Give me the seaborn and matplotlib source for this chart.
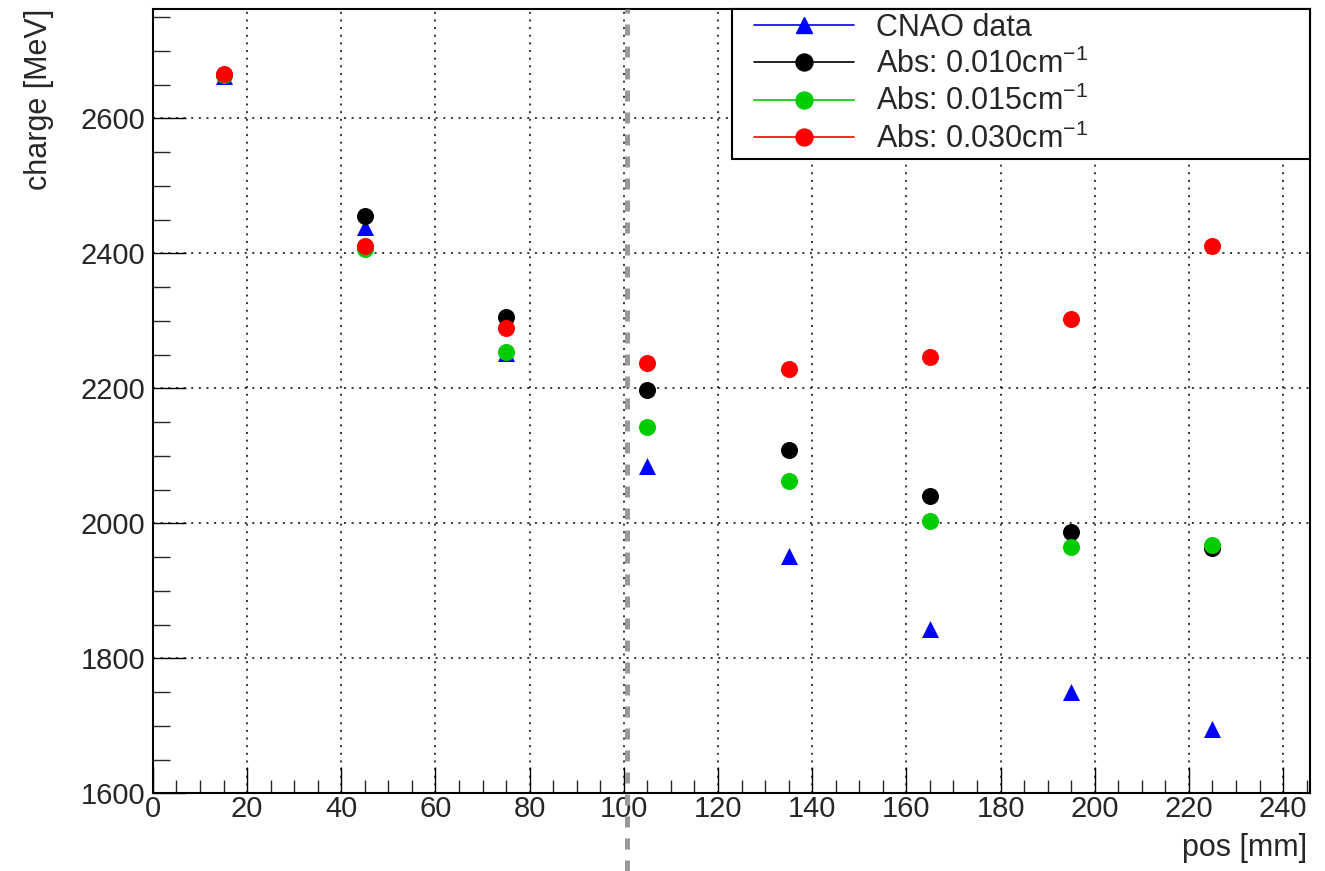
import matplotlib
matplotlib.use("Agg")
import matplotlib.pyplot as plt
from matplotlib.ticker import MultipleLocator
from matplotlib.lines import Line2D
from matplotlib.legend_handler import HandlerLine2D
import seaborn as sns
import pandas as pd

# ---- data ----
pos = [15, 45, 75, 105, 135, 165, 195, 225]
cnao = [2662, 2439, 2253, 2085, 1951, 1843, 1750, 1695]
abs010 = [2664, 2455, 2305, 2197, 2109, 2040, 1987, 1963]
abs015 = [2664, 2406, 2254, 2142, 2062, 2003, 1965, 1968]
abs030 = [2665, 2411, 2289, 2237, 2228, 2247, 2302, 2411]
labels = ["CNAO data", "Abs: 0.010cm$^{-1}$", "Abs: 0.015cm$^{-1}$", "Abs: 0.030cm$^{-1}$"]
colors = ["#0000ff", "#000000", "#00cc00", "#ff0000"]
markers = ["^", "o", "o", "o"]
cut_pos = 100.6

sns.set_style("ticks")
plt.rcParams["font.family"] = ["Liberation Sans", "DejaVu Sans"]
plt.rcParams["mathtext.fontset"] = "custom"
plt.rcParams["mathtext.rm"] = "Liberation Sans"
plt.rcParams["mathtext.it"] = "Liberation Sans:italic"
plt.rcParams["mathtext.default"] = "regular"

fig = plt.figure(figsize=(13.25, 8.71), dpi=100)
ax = fig.add_axes([0.11540, 0.08921, 0.87321, 0.90046])

series = [cnao, abs010, abs015, abs030]
for vals, c, m in zip(series, colors, markers):
    df = pd.DataFrame({"pos": pos, "charge": vals})
    sns.scatterplot(data=df, x="pos", y="charge", ax=ax, color=c, marker=m,
                    s=150, linewidth=0, zorder=4, legend=False)

ax.set_xlim(0, 245.7)
ax.set_ylim(1600, 2762)
ax.xaxis.set_major_locator(MultipleLocator(20))
ax.xaxis.set_minor_locator(MultipleLocator(5))
ax.yaxis.set_major_locator(MultipleLocator(200))
ax.yaxis.set_minor_locator(MultipleLocator(50))
ax.set_xticks(range(0, 241, 20))

ax.tick_params(axis="x", which="major", direction="in", length=18.7, width=1.0,
               labelsize=21, pad=1.5, top=False, color="black")
ax.tick_params(axis="x", which="minor", direction="in", length=9.4, width=1.0, top=False)
ax.tick_params(axis="y", which="major", direction="in", length=23.8, width=1.0,
               labelsize=21, pad=5.5, right=False, color="black")
ax.tick_params(axis="y", which="minor", direction="in", length=12.2, width=1.0, right=False)

for sp in ax.spines.values():
    sp.set_linewidth(1.5)
    sp.set_color("black")
    sp.set_visible(True)

ax.set_axisbelow(True)
ax.grid(True, which="major", color="black", linestyle=(0, (1.3, 3.7)), linewidth=1.1)

ax.axvline(cut_pos, ymin=-0.099, ymax=1.0, color="#999999", linewidth=3.6,
           linestyle=(0, (2.2, 2.2)), clip_on=False, zorder=3)

ax.set_xlabel("pos [mm]", fontsize=22, loc="right")
ax.set_ylabel("charge [MeV]", fontsize=22, loc="top")
ax.xaxis.set_label_coords(0.998, -0.0506)
ax.yaxis.set_label_coords(-0.0855, 1.0)

handles = [Line2D([0], [0], color=c, marker=m, markersize=12.2, linewidth=1.2)
           for c, m in zip(colors, markers)]
hmap = {h: HandlerLine2D(xpad=0.59) for h in handles}
leg = ax.legend(handles, labels, loc="upper left", bbox_to_anchor=(0.5004, 0, 0.4996, 1.0),
                mode="expand", borderaxespad=0, fontsize=22, frameon=True, fancybox=False,
                edgecolor="black", framealpha=1, borderpad=0.12, labelspacing=0.2,
                handlelength=3.89, handletextpad=0.72, handler_map=hmap)
leg.get_frame().set_linewidth(1.5)
leg.set_zorder(5)

fig.savefig("out.png", dpi=100)
